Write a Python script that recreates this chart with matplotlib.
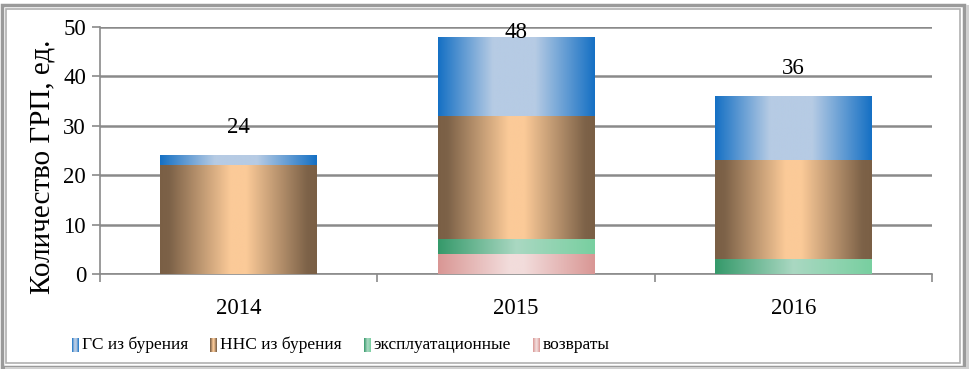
import numpy as np
import matplotlib.pyplot as plt
from matplotlib.colors import LinearSegmentedColormap
from matplotlib.patches import Rectangle

years = ["2014", "2015", "2016"]
vozvraty = [0, 4, 0]
ekspl = [0, 3, 3]
nns = [22, 25, 20]
gs = [2, 16, 13]
totals = [24, 48, 36]

names = ["ГС из бурения", "ННС из бурения", "эксплуатационные", "возвраты"]

# horizontal gradients like in the Excel chart
grad = {
    "gs": [(0, "#1570C4"), (0.35, "#B6CBE4"), (0.62, "#B6CBE4"), (1, "#1570C4")],
    "nns": [(0, "#7A5F45"), (0.06, "#7D6248"), (0.45, "#FBCA98"), (0.55, "#FBCA98"), (0.94, "#7D6248"), (1, "#7A5F45")],
    "ek": [(0, "#35996A"), (0.5, "#AAD8C2"), (1, "#78CFA0")],
    "vz": [(0, "#D99694"), (0.45, "#F2DCDB"), (0.55, "#F2DCDB"), (1, "#D99694")],
}
SERIF = ["Liberation Serif", "DejaVu Serif"]
plt.rcParams["font.family"] = SERIF

W, H = 969, 369
fig = plt.figure(figsize=(W / 100, H / 100), dpi=100)
ax = fig.add_axes([100 / W, 1 - 274 / H, 832 / W, 247 / H])

x = np.arange(len(years))
w = 0.565
gradient = np.linspace(0, 1, 256).reshape(1, -1)

bottom = np.zeros(3)
for key, vals in [("vz", vozvraty), ("ek", ekspl), ("nns", nns), ("gs", gs)]:
    bars = ax.bar(x, vals, w, bottom=bottom, facecolor="none", edgecolor="none", zorder=3)
    cmap = LinearSegmentedColormap.from_list(key, grad[key])
    for b in bars:
        if b.get_height() <= 0:
            continue
        x0, y0 = b.get_x(), b.get_y()
        im = ax.imshow(gradient, cmap=cmap, aspect="auto", zorder=3, interpolation="bilinear",
                       extent=(x0, x0 + b.get_width(), y0, y0 + b.get_height()))
        im.set_clip_path(b)
    bottom += np.array(vals)

for xi, t in zip(x, totals):
    ax.text(xi, min(t + 5.6, 48.8), str(t), ha="center", va="center", fontsize=16.5, zorder=5)

ax.set_xlim(-0.5, 2.5)
ax.set_ylim(0, 50)
ax.set_yticks(range(0, 51, 10))
ax.set_xticks(x)
ax.set_xticklabels(years)
ax.set_xticks([-0.5, 0.5, 1.5, 2.5], minor=True)
ax.yaxis.grid(True, color="#8A8A8A", lw=1.8, zorder=0)
ax.set_axisbelow(True)
for s in ["top", "right"]:
    ax.spines[s].set_visible(False)
for s in ["left", "bottom"]:
    ax.spines[s].set_color("#8A8A8A")
    ax.spines[s].set_linewidth(1.2)
ax.tick_params(axis="y", length=6, color="#8A8A8A", width=1.2, labelsize=16.5, pad=4)
ax.tick_params(axis="x", which="major", length=0, labelsize=16.5, pad=17)
ax.tick_params(axis="x", which="minor", length=6, color="#8A8A8A", width=1.2)
ax.set_ylabel("Количество ГРП, ед.", fontsize=21, labelpad=2)
ax.yaxis.set_label_coords(-0.054, 0.435)

# legend, laid out by hand: gradient swatch + text, centred under the chart like the original
renderer = fig.canvas.get_renderer()
texts = []
for name in names:
    t = fig.text(0, 1 - 345 / H, name, ha="left", va="center", fontsize=12.5, family=SERIF)
    texts.append(t)
widths = [t.get_window_extent(renderer).width for t in texts]
sw, sgap, gap = 7, 3, 22
total = sum(widths) + len(names) * (sw + sgap) + gap * (len(names) - 1)
lx = 341 - total / 2
for key, t, tw in zip(["gs", "nns", "ek", "vz"], texts, widths):
    cmap = LinearSegmentedColormap.from_list(key + "_l", grad[key])
    lax = fig.add_axes([lx / W, 1 - 352 / H, sw / W, 14 / H])
    lax.imshow(gradient, cmap=cmap, aspect="auto", interpolation="bilinear")
    lax.set_axis_off()
    t.set_x((lx + sw + sgap) / W)
    lx += sw + sgap + tw + gap

# double frame with shadow
fig.patches.append(Rectangle((2 / W, 2 / H), 962 / W, 362 / H, transform=fig.transFigure,
                             fill=False, edgecolor="#9A9A9A", lw=2.5))
fig.patches.append(Rectangle((6 / W, 6 / H), 954 / W, 354 / H, transform=fig.transFigure,
                             fill=False, edgecolor="#B0B0B0", lw=1.2))
fig.patches.append(Rectangle((966 / W, 0), 3 / W, 364 / H, transform=fig.transFigure,
                             facecolor="#D0D0D0", edgecolor="none"))
fig.patches.append(Rectangle((5 / W, 0), 964 / W, 2 / H, transform=fig.transFigure,
                             facecolor="#D0D0D0", edgecolor="none"))

fig.savefig("out.png", dpi=100)
